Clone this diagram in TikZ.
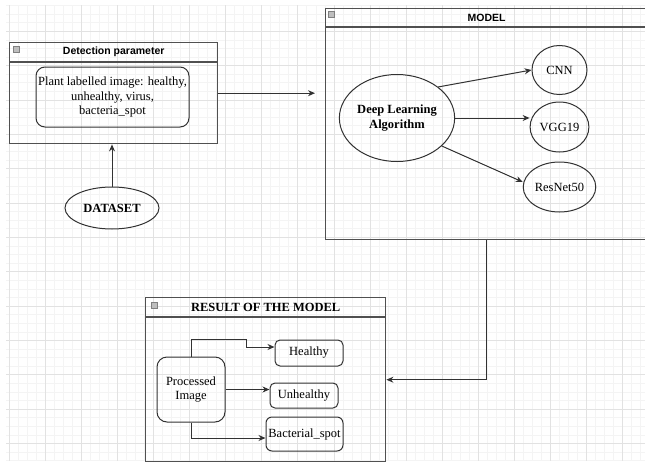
\documentclass[tikz,border=0pt]{standalone}
\usepackage{fontspec}
\setmainfont{Liberation Serif}
\newfontfamily\arialfont{Liberation Sans}
\usepackage{tikz}
\usetikzlibrary{positioning,shapes.geometric,arrows.meta}
\definecolor{panelgray}{RGB}{80, 80, 80}
\definecolor{edgegray}{RGB}{50, 50, 50}
\definecolor{gridmajor}{RGB}{226, 226, 226}
\definecolor{gridminor}{RGB}{244, 244, 244}
\definecolor{icongray}{RGB}{190, 190, 190}

\begin{document}
\begin{tikzpicture}[
    x=1pt, y=-1pt,
    font=\fontsize{12.5}{14.5}\selectfont,
    panel/.style={draw=panelgray, line width=1.4pt, rectangle, anchor=north west, inner sep=0pt},
    headtxt/.style={font=\arialfont\bfseries\fontsize{10.5}{12}\selectfont},
    icon/.style={draw=gray, fill=icongray, rectangle, minimum size=6pt, inner sep=0pt, line width=0.4pt},
    rbox/.style={draw=edgegray, line width=1pt, rectangle, align=center, inner sep=2pt},
    oval/.style={draw=edgegray, line width=1pt, ellipse, align=center, inner sep=1pt},
    arr/.style={-{Stealth[length=7pt,width=6pt]}, draw=edgegray, line width=1pt},
  ]
    \useasboundingbox (0,0) rectangle (645,461);

    % background grid
    \foreach \k in {0,...,70}
      \draw[gridminor, line width=0.5pt] ({8.9+9.025*\k},5) -- ({8.9+9.025*\k},461);
    \foreach \k in {-3,...,50}
      \draw[gridminor, line width=0.5pt] (6,{31.2+8.5875*\k}) -- (645,{31.2+8.5875*\k});
    \foreach \k in {0,4,...,68}
      \draw[gridmajor, line width=0.6pt] ({8.9+9.025*\k},5) -- ({8.9+9.025*\k},461);
    \foreach \k in {0,4,...,48}
      \draw[gridmajor, line width=0.6pt] (6,{31.2+8.5875*\k}) -- (645,{31.2+8.5875*\k});

    % Detection parameter (top left)
    \node[panel, minimum width=208pt, minimum height=101pt] (detect) at (9,42) {};
    \draw[panelgray, line width=1.3pt] ([yshift=-20pt]detect.north west) -- ([yshift=-20pt]detect.north east);
    \node[headtxt] (detectHead) at ([yshift=-10pt]detect.north) {Detection parameter};
    \node[icon] at ([xshift=7pt,yshift=-7pt]detect.north west) {};
    \node[rbox, rounded corners=9pt, minimum width=153pt, minimum height=60pt] (plant) at (112.5,97)
      {Plant labelled image: healthy,\\unhealthy, virus,\\bacteria\_spot};

    \node[oval, font=\bfseries\fontsize{12.5}{14.5}\selectfont, minimum width=94pt, minimum height=42pt] (dataset) at (112,208) {DATASET};
    \draw[arr] (dataset.north) -- (dataset.north |- detect.south);

    % MODEL (top right)
    \node[panel, minimum width=322pt, minimum height=231pt] (model) at (325,8) {};
    \draw[panelgray, line width=1.3pt] ([yshift=-19pt]model.north west) -- ([yshift=-19pt]model.north east);
    \node[headtxt] (modelHead) at ([yshift=-9.5pt]model.north) {MODEL};
    \node[icon] at ([xshift=6pt,yshift=-6pt]model.north west) {};

    \draw[arr, shorten >=10pt] (detect.east) -- (detect.east -| model.west);

    \node[oval, font=\bfseries\fontsize{12.5}{14.5}\selectfont, minimum width=110pt, minimum height=87pt] (deep) at (397,118)
      {Deep Learning\\Algorithm};
    \node[oval, minimum width=55pt, minimum height=49pt] (cnn) at (559.5,70) {CNN};
    \node[oval, minimum width=55pt, minimum height=50pt] (vgg) at (559.5,127) {VGG19};
    \node[oval, minimum width=55pt, minimum height=50pt] (resnet) at (559.5,187) {ResNet50};

    \draw[arr] (deep.37) -- (cnn.west);
    \draw[arr] (deep.east) -- (vgg.west |- deep.east);
    \draw[arr] (deep.-32) -- ([yshift=5pt]resnet.west);

    % RESULT OF THE MODEL (bottom)
    \node[panel, minimum width=240pt, minimum height=164pt] (result) at (145,297) {};
    \draw[panelgray, line width=1.3pt] ([yshift=-20pt]result.north west) -- ([yshift=-20pt]result.north east);
    \node[font=\bfseries\fontsize{12.5}{14.5}\selectfont] (resultHead) at ([yshift=-10pt]result.north) {RESULT OF THE MODEL};
    \node[icon] at ([xshift=9pt,yshift=-8pt]result.north west) {};

    \draw[arr] (model.south) |- (result.east);

    \node[rbox, rounded corners=10pt, minimum width=68pt, minimum height=65pt] (proc) at (191,389.5) {Processed\\Image};
    \node[rbox, rounded corners=5pt, minimum width=68pt, minimum height=26pt] (healthy) at (309,353) {Healthy};
    \node[rbox, rounded corners=5pt, minimum width=68pt, minimum height=25pt] (unhealthy) at (304,395.5) {Unhealthy};
    \node[rbox, rounded corners=6pt, minimum width=77pt, minimum height=34pt] (bact) at (304.5,434) {Bacterial\_spot};

    \draw[arr] (proc.north) |- ++(55,-17) |- ([yshift=6pt]healthy.west);
    \draw[arr] (proc.east) -- (proc.east -| unhealthy.west);
    \draw[arr] (proc.south) |- ([yshift=-4pt]bact.west);
  \end{tikzpicture}
\end{document}
